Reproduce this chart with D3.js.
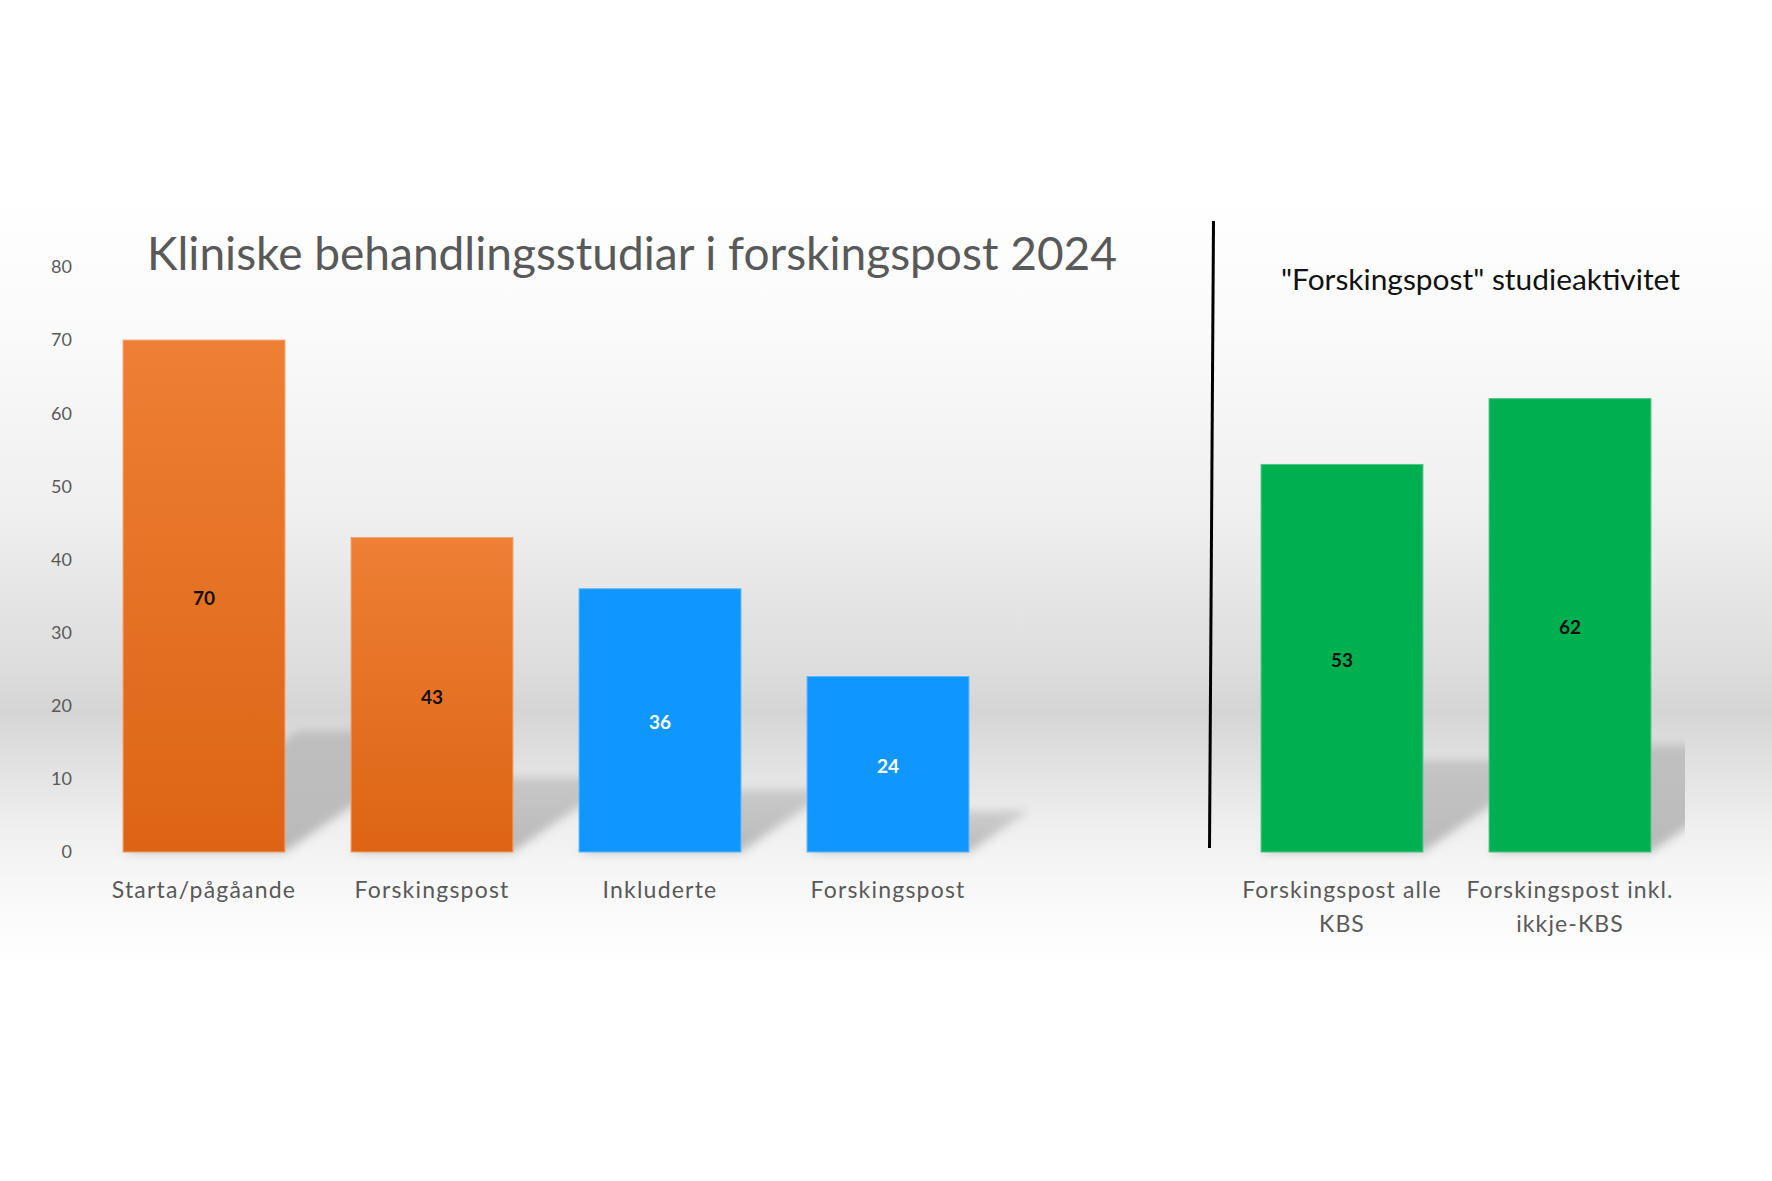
<!DOCTYPE html>
<html>
<head>
<meta charset="utf-8">
<script src="https://cdn.jsdelivr.net/npm/d3@7"></script>
<style>
html,body{margin:0;padding:0;background:#fff;}
svg{display:block;}
</style>
</head>
<body>
<svg id="chart" width="1772" height="1181"></svg>
<script>
// ---- data ----
const leftCategories = ["Starta/pågåande", "Forskingspost", "Inkluderte", "Forskingspost"];
const leftValues = [70, 43, 36, 24];
const leftGroups = ["orange", "orange", "blue", "blue"];
const rightCategories = [["Forskingspost alle", "KBS"], ["Forskingspost inkl.", "ikkje-KBS"]];
const rightValues = [53, 62];
const yTicks = [0, 10, 20, 30, 40, 50, 60, 70, 80];
const leftTitle = "Kliniske behandlingsstudiar i forskingspost 2024";
const rightTitle = "\"Forskingspost\" studieaktivitet";

const W = 1772, H = 1181;
const svg = d3.select("#chart");
const defs = svg.append("defs");
const FONT = "Lato, 'Noto Sans', sans-serif";

// background gradient
const bg = defs.append("linearGradient").attr("id","bgGrad").attr("x1",0).attr("y1",0).attr("x2",0).attr("y2",1);
[[0,"#ffffff"],[0.18,"#fafafa"],[0.42,"#efefef"],[0.62,"#dcdcdc"],[0.67,"#d5d5d5"],[0.72,"#dedede"],[0.82,"#efefef"],[0.9,"#f8f8f8"],[1,"#ffffff"]]
  .forEach(([o,c]) => bg.append("stop").attr("offset",o).attr("stop-color",c));
svg.append("rect").attr("x",0).attr("y",195).attr("width",W).attr("height",770).attr("fill","url(#bgGrad)");

// bar gradients
const og = defs.append("linearGradient").attr("id","orangeGrad").attr("x1",0).attr("y1",0).attr("x2",0).attr("y2",1);
og.append("stop").attr("offset",0).attr("stop-color","#ee7f34");
og.append("stop").attr("offset",1).attr("stop-color","#dd6414");
const fills = {orange:"url(#orangeGrad)", blue:"#1097ff", green:"#00af50"};
const strokes = {orange:"#f3a06a", blue:"#5cb8ff", green:"#4cc985"};

// shadow filter
const f = defs.append("filter").attr("id","blur").attr("x","-20%").attr("y","-40%").attr("width","140%").attr("height","180%");
f.append("feGaussianBlur").attr("stdDeviation",5);
const sg = defs.append("linearGradient").attr("id","shGrad").attr("x1",0).attr("y1",1).attr("x2",0).attr("y2",0);
sg.append("stop").attr("offset",0).attr("stop-color","#000").attr("stop-opacity",0.24);
sg.append("stop").attr("offset",1).attr("stop-color","#000").attr("stop-opacity",0.13);

defs.append("clipPath").attr("id","rightClip").append("rect")
  .attr("x",1215).attr("y",200).attr("width",470).attr("height",660);

// scales
const y = d3.scaleLinear().domain([0,80]).range([852,267]);
const xL = d3.scaleBand().domain(d3.range(leftValues.length)).range([90,1002]).paddingInner(0.29).paddingOuter(0.145);
const xR = d3.scaleBand().domain(d3.range(rightValues.length)).range([1228,1684]).paddingInner(0.29).paddingOuter(0.145);

function shadowPath(x0, w, v){
  const base = y(0), h = y(0) - y(v);
  const sh = 0.236*h, dx = 1.45*sh;
  return `M${x0},${base}L${x0+w},${base}L${x0+w+dx},${base-sh}L${x0+dx},${base-sh}Z`;
}

// y axis (labels only)
const yAxis = d3.axisLeft(y).tickValues(yTicks).tickSize(0).tickPadding(0);
const ga = svg.append("g").attr("transform","translate(72,0)").call(yAxis);
ga.select(".domain").remove();
ga.selectAll("text").attr("font-family",FONT).attr("font-size",18).attr("fill","#595959");

// left shadows
svg.append("g").selectAll("path").data(leftValues).join("path")
  .attr("d",(d,i)=>shadowPath(xL(i), xL.bandwidth(), d))
  .attr("fill","url(#shGrad)").attr("filter","url(#blur)");
// right shadows
svg.append("g").attr("clip-path","url(#rightClip)").selectAll("path").data(rightValues).join("path")
  .attr("d",(d,i)=>shadowPath(xR(i), xR.bandwidth(), d))
  .attr("fill","url(#shGrad)").attr("filter","url(#blur)");

// left bars
svg.append("g").selectAll("rect").data(leftValues).join("rect")
  .attr("x",(d,i)=>xL(i)).attr("y",d=>y(d))
  .attr("width",xL.bandwidth()).attr("height",d=>y(0)-y(d))
  .attr("fill",(d,i)=>fills[leftGroups[i]])
  .attr("stroke",(d,i)=>strokes[leftGroups[i]]).attr("stroke-width",1);
// right bars
svg.append("g").selectAll("rect").data(rightValues).join("rect")
  .attr("x",(d,i)=>xR(i)).attr("y",d=>y(d))
  .attr("width",xR.bandwidth()).attr("height",d=>y(0)-y(d))
  .attr("fill",fills.green).attr("stroke",strokes.green).attr("stroke-width",1);

// value labels
svg.append("g").selectAll("text").data(leftValues).join("text")
  .attr("x",(d,i)=>xL(i)+xL.bandwidth()/2).attr("y",d=>(y(0)+y(d))/2 + 4)
  .attr("text-anchor","middle").attr("dominant-baseline","middle")
  .attr("font-family",FONT).attr("font-weight","bold").attr("font-size",19)
  .attr("fill",(d,i)=>leftGroups[i]==="blue"?"#ffffff":"#111111")
  .text(d=>d);
svg.append("g").selectAll("text").data(rightValues).join("text")
  .attr("x",(d,i)=>xR(i)+xR.bandwidth()/2).attr("y",d=>(y(0)+y(d))/2 + 4)
  .attr("text-anchor","middle").attr("dominant-baseline","middle")
  .attr("font-family",FONT).attr("font-weight","bold").attr("font-size",19)
  .attr("fill","#111111").text(d=>d);

// category labels
svg.append("g").selectAll("text").data(leftCategories).join("text")
  .attr("x",(d,i)=>xL(i)+xL.bandwidth()/2).attr("y",898)
  .attr("text-anchor","middle").attr("font-family",FONT).attr("font-size",23)
  .attr("letter-spacing","1.2px")
  .attr("fill","#595959").text(d=>d);
const rl = svg.append("g").selectAll("text").data(rightCategories).join("text")
  .attr("text-anchor","middle").attr("font-family",FONT).attr("font-size",23)
  .attr("letter-spacing","1.1px")
  .attr("fill","#595959");
rl.each(function(lines,i){
  const t = d3.select(this);
  lines.forEach((ln,k)=>{
    t.append("tspan").attr("x",xR(i)+xR.bandwidth()/2).attr("y",898+k*34).text(ln);
  });
});

// titles
svg.append("text").attr("x",147).attr("y",270)
  .attr("font-family",FONT).attr("font-size",46).attr("fill","#595959")
  .attr("textLength",970).attr("lengthAdjust","spacingAndGlyphs")
  .text(leftTitle);
svg.append("text").attr("x",1281).attr("y",290)
  .attr("font-family",FONT).attr("font-size",29).attr("fill","#111111")
  .attr("textLength",399).attr("lengthAdjust","spacingAndGlyphs")
  .text(rightTitle);

// divider line
svg.append("line").attr("x1",1213.5).attr("y1",221).attr("x2",1209.5).attr("y2",848)
  .attr("stroke","#000").attr("stroke-width",3);
</script>
</body>
</html>
